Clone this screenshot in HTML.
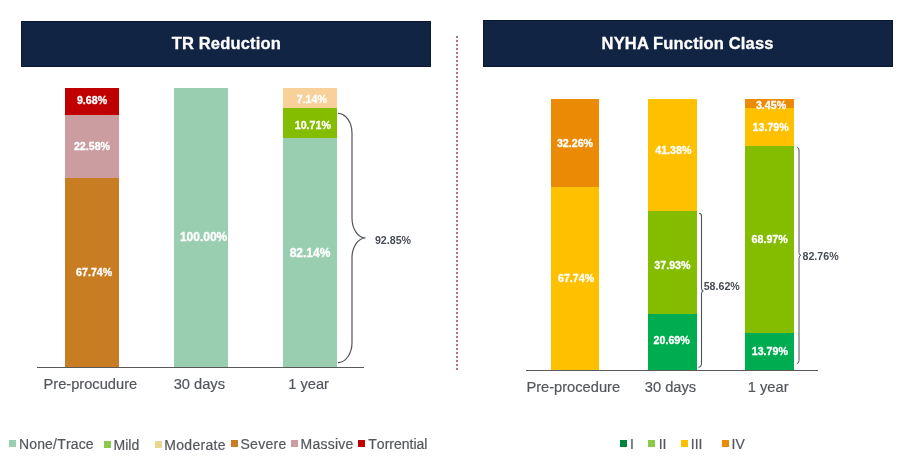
<!DOCTYPE html><html><head><meta charset="utf-8"><title>Charts</title><style>html,body{margin:0;padding:0;background:#fff}svg{display:block}text{font-family:"Liberation Sans",Arial,sans-serif}.b{font-weight:bold;font-size:10.67px;fill:#fff;text-anchor:middle;stroke:#fff;stroke-width:.3px}.d{font-weight:bold;font-size:10.67px;fill:#474c54}.ax{font-size:14.67px;fill:#53575d;stroke:#53575d;stroke-width:.2px}.lg{font-size:14px;fill:#53575d;stroke:#53575d;stroke-width:.2px;font-kerning:none}.h{font-weight:bold;font-size:16.5px;letter-spacing:.16px;fill:#fff;text-anchor:middle;stroke:#fff;stroke-width:.3px}</style></head><body>
<svg width="902" height="475" viewBox="0 0 902 475">
<rect width="902" height="475" fill="#fff"/>
<rect x="21.5" y="21.5" width="409" height="45" fill="#112444" stroke="#0a1730" stroke-width="1"/>
<rect x="483.5" y="20.5" width="409" height="46" fill="#112444" stroke="#0a1730" stroke-width="1"/>
<text class="h" x="226.3" y="48.7">TR Reduction</text>
<text class="h" x="687.6" y="48.8">NYHA Function Class</text>
<line x1="457" y1="36" x2="457" y2="370" stroke="#bd6f7c" stroke-width="2" stroke-dasharray="2 2"/>
<rect x="65" y="88" width="54" height="27" fill="#C00000"/>
<rect x="65" y="115" width="54" height="63" fill="#CB9CA0"/>
<rect x="65" y="178" width="54" height="189" fill="#C87D22"/>
<rect x="174" y="88" width="54" height="279" fill="#99CEB0"/>
<rect x="283" y="88" width="54" height="20" fill="#F8D09A"/>
<rect x="283" y="108" width="54" height="30" fill="#84BC00"/>
<rect x="283" y="138" width="54" height="229" fill="#99CEB0"/>
<rect x="37" y="367" width="327" height="1" fill="#595959"/>
<text class="b" x="92" y="104.1">9.68%</text>
<text class="b" x="92" y="149.9">22.58%</text>
<text class="b" x="94.2" y="276.3">67.74%</text>
<text class="b" x="203.6" y="240.9" style="font-size:12px">100.00%</text>
<text class="b" x="311.85" y="103.2">7.14%</text>
<text class="b" x="312.8" y="128.85">10.71%</text>
<text class="b" x="310" y="257" style="font-size:12px">82.14%</text>
<text class="d" x="374.9" y="244.1">92.85%</text>
<path d="M338,113.3 A14,20 0 0 1 352,133.3 V218 A13.5,20 0 0 0 365.5,238 A13.5,20 0 0 0 352,258 V342.6 A14,20 0 0 1 338,362.6" fill="none" stroke="#50555c" stroke-width="1.2"/>
<text class="ax" x="43.5" y="388.8">Pre-procudure</text>
<text class="ax" x="173.7" y="388.8">30 days</text>
<text class="ax" x="288.2" y="388.8">1 year</text>
<rect x="9" y="440" width="7" height="7" fill="#99CEB0"/>
<text class="lg" x="18.9" y="448.6" style="letter-spacing:.18px">None/Trace</text>
<rect x="104" y="441" width="7" height="7" fill="#8ACB4A"/>
<text class="lg" x="113.6" y="449.9">Mild</text>
<rect x="155" y="441" width="7" height="7" fill="#EBD592"/>
<text class="lg" x="164.3" y="449.9" style="letter-spacing:.3px">Moderate</text>
<rect x="231" y="440" width="7" height="7" fill="#C87D22"/>
<text class="lg" x="240.5" y="448.6" style="letter-spacing:.28px">Severe</text>
<rect x="291" y="440" width="7" height="7" fill="#CB9CA0"/>
<text class="lg" x="300.6" y="448.6" style="letter-spacing:.24px">Massive</text>
<rect x="358" y="440" width="7" height="7" fill="#C00000"/>
<text class="lg" x="368.3" y="448.6">Torrential</text>
<rect x="551" y="99" width="48" height="88" fill="#EB8B05"/>
<rect x="551" y="187" width="48" height="183" fill="#FFC000"/>
<rect x="648" y="99" width="49" height="112" fill="#FFC000"/>
<rect x="648" y="211" width="49" height="103" fill="#84BC00"/>
<rect x="648" y="314" width="49" height="56" fill="#00AC50"/>
<rect x="745" y="99" width="49" height="9" fill="#EB8B05"/>
<rect x="745" y="108" width="49" height="38" fill="#FFC000"/>
<rect x="745" y="146" width="49" height="187" fill="#84BC00"/>
<rect x="745" y="333" width="49" height="37" fill="#00AC50"/>
<rect x="526" y="370" width="292" height="1" fill="#595959"/>
<text class="b" x="575" y="146.8">32.26%</text>
<text class="b" x="576.1" y="282">67.74%</text>
<text class="b" x="673.3" y="154.1">41.38%</text>
<text class="b" x="672.4" y="268.8">37.93%</text>
<text class="b" x="671.7" y="344.1">20.69%</text>
<text class="b" x="771" y="109">3.45%</text>
<text class="b" x="770.7" y="130.8">13.79%</text>
<text class="b" x="769.7" y="243.1">68.97%</text>
<text class="b" x="769.8" y="355">13.79%</text>
<text class="d" x="703.7" y="290.1">58.62%</text>
<text class="d" x="802.5" y="260.1">82.76%</text>
<path d="M699,213.3 A2.5,3 0 0 1 701.5,216.3 V287 A2,4 0 0 0 703.5,291 A2,4 0 0 0 701.5,295 V363 A3,4 0 0 1 698.5,367.3" fill="none" stroke="#4d5159" stroke-width="1.1"/>
<path d="M797,147.5 A2,2.5 0 0 1 799,150 V252.5 A2,3 0 0 0 801,255.3 A2,3 0 0 0 799,258 V360.5 A2,3 0 0 1 797,363.5" fill="none" stroke="#4d5159" stroke-width="1"/>
<text class="ax" x="526.4" y="391.8">Pre-procedure</text>
<text class="ax" x="644.8" y="391.8">30 days</text>
<text class="ax" x="747.8" y="391.8">1 year</text>
<rect x="620" y="440" width="7" height="7" fill="#00843D"/>
<text class="lg" x="630" y="448.6">I</text>
<rect x="648" y="440" width="7" height="7" fill="#8ACB4A"/>
<text class="lg" x="658.7" y="448.6">II</text>
<rect x="681" y="440" width="7" height="7" fill="#FFC000"/>
<text class="lg" x="690.8" y="448.6">III</text>
<rect x="722" y="440" width="7" height="7" fill="#EB8B05"/>
<text class="lg" x="731.6" y="448.6">IV</text>
</svg></body></html>
